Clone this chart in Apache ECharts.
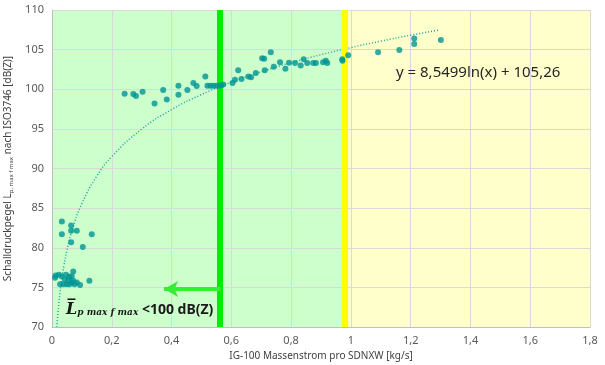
<!DOCTYPE html>
<html>
<head>
<meta charset="utf-8">
<script src="https://cdn.jsdelivr.net/npm/echarts@6/dist/echarts.min.js"></script>
<style>
  html, body { margin: 0; padding: 0; background: #fff; }
  #chart { width: 605px; height: 365px; }
</style>
</head>
<body>
<div id="chart"></div>
<script>
// measured points: mass flow [kg/s] and sound level [dB(Z)]
const massFlow = [
  0.010, 0.012, 0.023, 0.032, 0.047, 0.058, 0.066, 0.071, 0.043, 0.055,
  0.071, 0.027, 0.038, 0.049, 0.058, 0.066, 0.075, 0.083, 0.094, 0.125,
  0.033, 0.064, 0.064, 0.083, 0.033, 0.133, 0.064, 0.103,
  0.243, 0.272, 0.281, 0.303, 0.343, 0.372, 0.384, 0.423, 0.423, 0.453,
  0.473, 0.484, 0.513, 0.520, 0.530, 0.540, 0.550, 0.560, 0.573, 0.567,
  0.604, 0.612, 0.623, 0.634, 0.657, 0.666, 0.682, 0.703, 0.710, 0.712,
  0.732, 0.742, 0.763, 0.781, 0.793, 0.813, 0.832, 0.842, 0.854, 0.874,
  0.883, 0.907, 0.916, 0.921, 0.971, 0.972, 0.991, 1.091, 1.162, 1.212,
  1.212, 1.301
];
const soundLevel = [
  76.2, 76.5, 76.6, 76.4, 76.6, 76.35, 76.4, 77.0, 76.0, 75.9,
  75.85, 75.4, 75.4, 75.4, 75.4, 75.6, 75.4, 75.6, 75.3, 75.85,
  83.3, 82.8, 82.15, 82.15, 81.7, 81.7, 80.7, 80.1,
  99.44, 99.4, 99.15, 99.7, 98.2, 99.9, 98.7, 100.45, 99.3, 99.9,
  100.8, 100.4, 101.6, 100.45, 100.45, 100.45, 100.45, 100.45, 100.6, 100.5,
  100.8, 101.2, 102.4, 101.3, 101.6, 101.5, 102.05, 103.9, 103.85, 102.4,
  104.66, 102.85, 103.4, 102.6, 103.35, 103.3, 103.0, 103.8, 103.3, 103.3,
  103.3, 103.4, 103.6, 103.3, 103.8, 103.6, 104.3, 104.66, 104.95, 106.4,
  105.7, 106.2
];

// logarithmic trend line
const trendX = [0.0162, 0.02, 0.03, 0.04, 0.05, 0.07, 0.1, 0.15, 0.2, 0.3,
  0.4, 0.5, 0.6, 0.7, 0.8, 0.9, 1.0, 1.1, 1.2, 1.295];
const trendY = [70.0, 71.81, 75.28, 77.74, 79.65, 82.52, 85.57, 89.04, 91.5, 94.97,
  97.43, 99.33, 100.89, 102.21, 103.35, 104.36, 105.26, 106.07, 106.82, 107.47];

// zones and limits
const greenZone = [0, 0.985];
const yellowZone = [0.985, 1.8];
const limitGreen = 0.565;
const limitYellow = 0.985;
const arrowFrom = [0.565, 74.8];
const arrowTo = [0.375, 74.8];

const fmt = (v) => String(v).replace('.', ',');

const chart = echarts.init(document.getElementById('chart'));

const option = {
  animation: false,
  textStyle: { fontFamily: 'Noto Sans' },
  grid: { left: 52, right: 15, top: 10, bottom: 38, outerBoundsMode: 'none' },
  xAxis: {
    type: 'value',
    min: 0, max: 1.8, interval: 0.2,
    z: 2,
    name: 'IG-100 Massenstrom pro SDNXW [kg/s]',
    nameLocation: 'middle',
    nameGap: 24,
    nameTextStyle: { color: '#404040', fontSize: 10 },
    axisLine: { lineStyle: { color: '#bfbfbf' } },
    axisTick: { show: false },
    axisLabel: { color: '#595959', fontSize: 11, margin: 8, formatter: fmt },
    splitLine: { lineStyle: { color: '#d9d9d9' } }
  },
  yAxis: {
    type: 'value',
    min: 70, max: 110, interval: 5,
    z: 2,
    name: '{a|Schalldruckpegel L}{s|p, max f max}{a| nach ISO3746 [dB(Z)]}',
    nameLocation: 'middle',
    nameGap: 31,
    nameTextStyle: {
      rich: {
        a: { color: '#404040', fontSize: 10, fontFamily: 'Noto Sans' },
        s: { color: '#404040', fontSize: 6, fontFamily: 'Noto Sans', padding: [6, 0, 0, 0] }
      }
    },
    axisLine: { show: true, lineStyle: { color: '#bfbfbf' } },
    axisTick: { show: false },
    axisLabel: { color: '#595959', fontSize: 11, margin: 8 },
    splitLine: { lineStyle: { color: '#d9d9d9' } }
  },
  series: [
    {
      // background zones
      type: 'line',
      z: 1,
      data: [],
      silent: true,
      markArea: {
        silent: true,
        data: [
          [{ xAxis: greenZone[0], itemStyle: { color: '#ccffcc' } }, { xAxis: greenZone[1] }],
          [{ xAxis: yellowZone[0], itemStyle: { color: '#ffffcc' } }, { xAxis: yellowZone[1] }]
        ]
      }
    },
    {
      // limit bars and arrow
      type: 'line',
      z: 3,
      data: [],
      silent: true,
      markLine: {
        silent: true,
        symbol: 'none',
        label: { show: false },
        data: [
          { xAxis: limitGreen, lineStyle: { color: '#00ee00', width: 6, type: 'solid' } },
          { xAxis: limitYellow, lineStyle: { color: '#ffff00', width: 6, type: 'solid' } },
          [
            { coord: arrowFrom, symbol: 'none' },
            { coord: arrowTo, symbol: 'arrow', symbolSize: [12, 14],
              lineStyle: { color: '#33ee33', width: 4, type: 'solid' } }
          ]
        ]
      }
    },
    {
      type: 'line',
      z: 4,
      data: trendX.map((x, i) => [x, trendY[i]]),
      showSymbol: false,
      smooth: true,
      lineStyle: { color: '#1aa3a3', width: 1.5, type: [1, 2] }
    },
    {
      type: 'scatter',
      z: 5,
      data: massFlow.map((x, i) => [x, soundLevel[i]]),
      symbolSize: 6,
      itemStyle: { color: '#009494' }
    }
  ],
  graphic: [
    {
      type: 'text',
      left: 396, top: 65,
      z: 10,
      style: {
        text: 'y = 8,5499ln(x) + 105,26',
        font: '15px "Noto Sans"',
        fill: '#262626'
      }
    },
    {
      type: 'text',
      left: 66, top: 302,
      z: 10,
      style: {
        text: '{l|L\u0305}{s|p max f max}{t| <100 dB(Z)}',
        rich: {
          l: { font: 'italic bold 16px "DejaVu Serif"', fill: '#1a1a1a' },
          s: { font: 'italic bold 9px "DejaVu Serif"', fill: '#1a1a1a', padding: [6, 0, 0, 0] },
          t: { font: 'bold 14px "Noto Sans"', fill: '#1a1a1a' }
        }
      }
    }
  ]
};

chart.setOption(option);
</script>
</body>
</html>
